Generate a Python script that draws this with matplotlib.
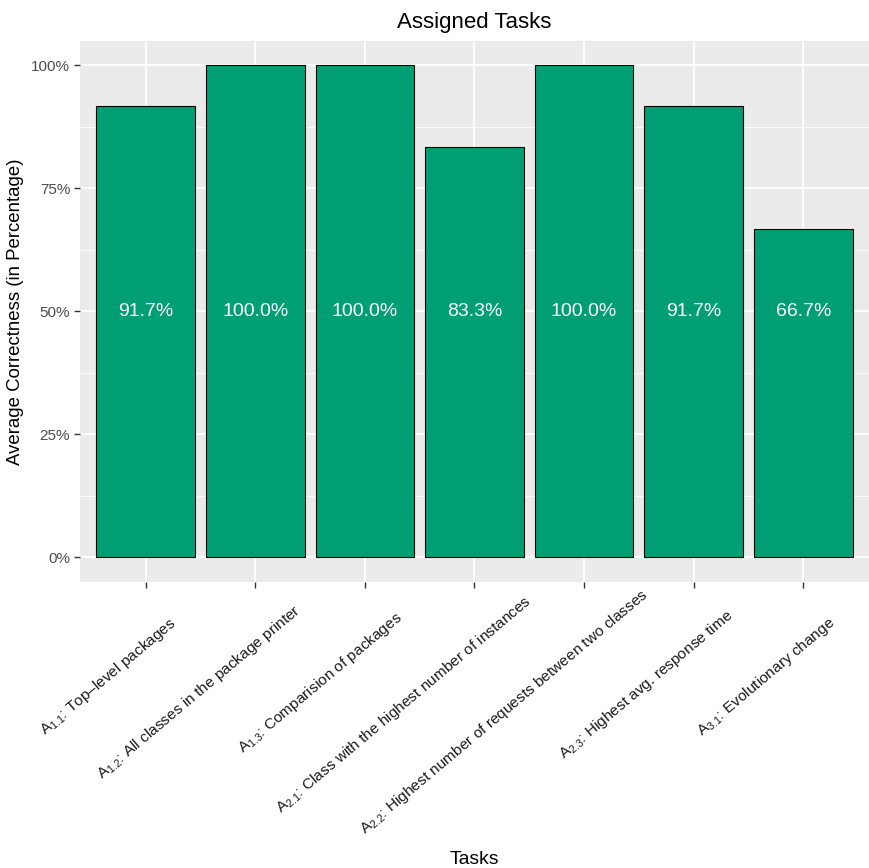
import matplotlib
matplotlib.use("Agg")
import matplotlib.pyplot as plt
import matplotlib.transforms as mtransforms
from matplotlib.ticker import MultipleLocator, FuncFormatter
import numpy as np

plt.rcParams["font.family"] = ["Liberation Sans", "DejaVu Sans"]
plt.rcParams["mathtext.fontset"] = "custom"
plt.rcParams["mathtext.rm"] = "Liberation Sans"
plt.rcParams["mathtext.it"] = "Liberation Sans:italic"
plt.rcParams["mathtext.default"] = "regular"

# Task identifiers and their descriptions
task_ids = ["1.1", "1.2", "1.3", "2.1", "2.2", "2.3", "3.1"]
task_names = [
    "Top\u2013level packages",
    "All classes in the package printer",
    "Comparision of packages",
    "Class with the highest number of instances",
    "Highest number of requests between two classes",
    "Highest avg. response time",
    "Evolutionary change",
]
# Average correctness per task (percent)
correctness = [91.7, 100.0, 100.0, 83.3, 100.0, 91.7, 66.7]

labels = [f"A$_{{{tid}}}$: {name}" for tid, name in zip(task_ids, task_names)]

W, H, DPI = 8.69, 8.68, 100
fig = plt.figure(figsize=(W, H), dpi=DPI)
ax = fig.add_axes([0.092, 0.3295, 0.908, 0.6238])

ax.set_facecolor("#EBEBEB")
for s in ax.spines.values():
    s.set_visible(False)

x = list(range(1, len(correctness) + 1))
ax.bar(x, correctness, width=0.9, color="#009E73", edgecolor="black", linewidth=0.8, zorder=3)

for xi, v in zip(x, correctness):
    ax.text(xi, 50, f"{v:.1f}%", color="white", ha="center", va="center", fontsize=14, zorder=4)

ax.set_xlim(0.4, len(correctness) + 0.6)
ax.set_ylim(-5, 105)
ax.yaxis.set_major_locator(MultipleLocator(25))
ax.yaxis.set_minor_locator(MultipleLocator(12.5))
ax.yaxis.set_major_formatter(FuncFormatter(lambda v, p: f"{v:.0f}%"))
ax.set_xticks(x)
ax.set_xticklabels([])

ax.grid(which="major", color="white", linewidth=1.3, zorder=0)
ax.grid(which="minor", axis="y", color="white", linewidth=0.6, zorder=0)
ax.set_axisbelow(True)
ax.tick_params(axis="both", which="major", length=4, width=1.0, color="#333333")
ax.tick_params(axis="y", which="major", labelsize=11, labelcolor="#4D4D4D", pad=3)
ax.tick_params(axis="y", which="minor", length=0)

# Rotated task labels, anchored below each tick with a partial right justification
fig.canvas.draw()
renderer = fig.canvas.get_renderer()
angle = np.deg2rad(40)
hjust = 0.78
label_size = 11.1
anchor_y = -0.117  # axes fraction below the panel
base = mtransforms.blended_transform_factory(ax.transData, ax.transAxes)
for xi, lab in zip(x, labels):
    probe = ax.text(0, 0, lab, fontsize=label_size)
    L = probe.get_window_extent(renderer).width
    probe.remove()
    shift = (1 - hjust) * L
    off = mtransforms.ScaledTranslation(shift * np.cos(angle) / DPI, shift * np.sin(angle) / DPI,
                                        fig.dpi_scale_trans)
    ax.text(xi, anchor_y, lab, transform=base + off, rotation=40, rotation_mode="anchor",
            ha="right", va="center", fontsize=label_size, color="#1A1A1A", clip_on=False)

ax.set_title("Assigned Tasks", fontsize=16, pad=9)
ax.set_ylabel("Average Correctness (in Percentage)", fontsize=13.4, labelpad=5)
fig.text(0.5 * (0.092 + 1.0), 4 / (H * DPI), "Tasks", ha="center", va="baseline", fontsize=13.9)

fig.savefig("out.png", dpi=DPI)
